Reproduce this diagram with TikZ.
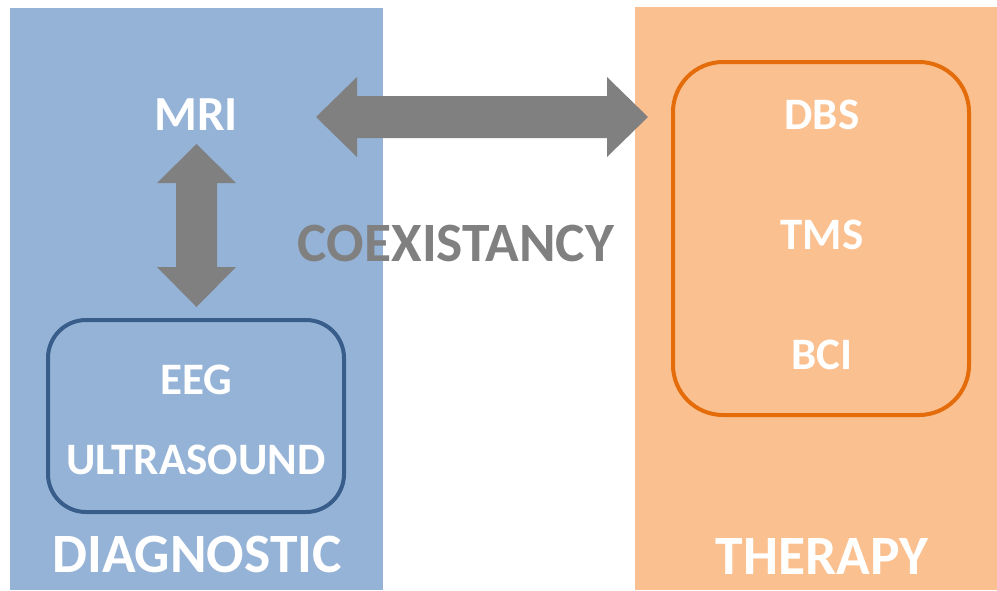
\documentclass[tikz,border=0pt]{standalone}
\usepackage{fontspec}
\setmainfont{Carlito}
\usetikzlibrary{positioning}
\definecolor{diagfill}{HTML}{95B3D7}
\definecolor{diagline}{HTML}{385D8A}
\definecolor{therfill}{HTML}{FAC08F}
\definecolor{therline}{HTML}{E46C0A}
\definecolor{arrowgray}{HTML}{808080}
\tikzset{
  panel/.style={rectangle, inner sep=0pt, outer sep=0pt},
  group/.style={rectangle, line width=4pt, inner sep=0pt},
  lbl/.style={text=white, font=\bfseries\fontsize{45}{48}\selectfont, inner sep=0pt},
  title/.style={text=white, font=\bfseries\fontsize{55.5}{60}\selectfont, inner sep=0pt},
}

\begin{document}
\begin{tikzpicture}[x=1pt,y=-1pt]
\useasboundingbox (0,0) rectangle (997,590);
\node[panel, fill=diagfill, minimum width=373, minimum height=582] (diag) at (196.5,299) {};
\node[panel, fill=therfill, minimum width=362, minimum height=583] (ther) at (816,298.5) {};

\node[group, draw=diagline, rounded corners=38pt, minimum width=296, minimum height=192] (diagbox) at (196,416) {};
\node[group, draw=therline, rounded corners=50pt, minimum width=296, minimum height=353] (therbox) at (821,238.5) {};

\node[lbl, font=\bfseries\fontsize{49}{52}\selectfont] (mri) at (196,115) {MRI};
\node[lbl] (eeg) at (196,380) {EEG};
\node[lbl] (us) at (196,460) {ULTRASOUND};
\node[title] (diagt) at (197,554) {DIAGNOSTIC};

\node[lbl] (dbs) at (822,115) {DBS};
\node[lbl] (tms) at (822,235) {TMS};
\node[lbl] (bci) at (822,355) {BCI};
\node[title] (thert) at (822,556) {THERAPY};

\node[title, text=arrowgray] (coex) at (456,243) {COEXISTANCY};

\coordinate (hl) at (316,117);
\coordinate (hr) at (648,117);
\fill[arrowgray] (hl) -- (357,77) -- (357,96) -- (607,96) -- (607,77) -- (hr)
  -- (607,157) -- (607,138) -- (357,138) -- (357,157) -- cycle;

\coordinate (vt) at (196.5,144);
\coordinate (vb) at (196.5,307);
\fill[arrowgray] (vt) -- (236,183) -- (217,183) -- (217,267) -- (236,267) -- (vb)
  -- (157,267) -- (176,267) -- (176,183) -- (157,183) -- cycle;
\end{tikzpicture}
\end{document}
